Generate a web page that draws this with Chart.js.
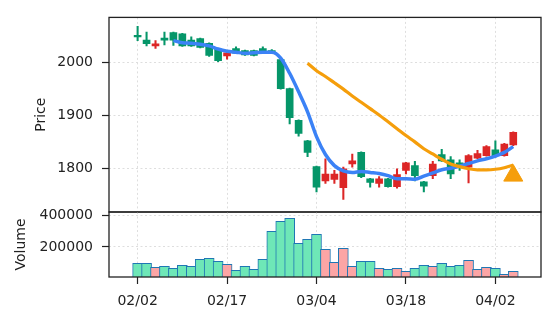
<!DOCTYPE html>
<html>
<head>
<meta charset="utf-8">
<script src="https://cdn.jsdelivr.net/npm/chart.js@4"></script>
<style>
  html, body { margin: 0; padding: 0; background: #fff; }
  #wrap { position: relative; width: 556px; height: 322px; }
  #wrap canvas { position: absolute; left: 0; top: 0; }
</style>
</head>
<body>
<div id="wrap">
  <canvas id="price" width="556" height="322"></canvas>
  <canvas id="volume" width="556" height="322"></canvas>
</div>
<script>
// daily candles (index 0 = 02/02)
const opens  = [2052, 2043, 2032, 2047, 2057, 2055, 2043, 2046, 2037, 2026, 2013, 2027, 2023, 2023, 2027,
                2023, 2006, 1951, 1891, 1852, 1803, 1776, 1779, 1763, 1808, 1830, 1780, 1771, 1780, 1765,
                1796, 1805, 1774, 1786, 1826, 1816, 1810, 1802, 1819, 1824, 1835, 1824, 1844];
const highs  = [2069, 2058, 2042, 2058, 2058, 2056, 2049, 2047, 2038, 2027, 2021, 2030, 2024, 2024, 2030,
                2025, 2008, 1952, 1892, 1853, 1804, 1818, 1796, 1802, 1827, 1831, 1781, 1784, 1781, 1799,
                1811, 1813, 1775, 1813, 1836, 1822, 1816, 1826, 1834, 1843, 1852, 1847, 1869];
const lows   = [2042, 2032, 2027, 2034, 2033, 2031, 2031, 2028, 2012, 2002, 2007, 2017, 2014, 2013, 2017,
                2017, 1950, 1884, 1861, 1822, 1755, 1771, 1771, 1741, 1802, 1782, 1764, 1764, 1764, 1762,
                1789, 1776, 1755, 1780, 1813, 1780, 1796, 1772, 1818, 1823, 1821, 1823, 1843];
const closes = [2049, 2036, 2036, 2043, 2043, 2032, 2032, 2029, 2014, 2004, 2019, 2018, 2015, 2014, 2018,
                2018, 1951, 1896, 1866, 1830, 1764, 1789, 1789, 1799, 1814, 1784, 1773, 1780, 1765, 1788,
                1810, 1786, 1766, 1808, 1814, 1789, 1805, 1824, 1828, 1841, 1824, 1846, 1868];
const volumes = [96000, 96000, 70000, 77000, 64000, 83000, 77000, 121000, 128000, 109000, 89000, 51000, 77000, 57000, 121000,
                 300000, 364000, 383000, 224000, 249000, 281000, 185000, 102000, 192000, 77000, 109000, 109000, 64000, 57000, 64000,
                 45000, 64000, 83000, 77000, 96000, 77000, 83000, 115000, 57000, 70000, 64000, 25000, 45000];

// moving averages as drawn (blue starts at index 4, orange at index 19)
const ma5Start = 4;
const ma5 = [2042, 2038, 2037, 2035, 2032, 2026, 2022, 2020, 2018, 2019, 2020, 2020, 2009, 1980, 1945,
             1907, 1860, 1826, 1805, 1795, 1792, 1794, 1792, 1790, 1786, 1780, 1780, 1779, 1785, 1791,
             1797, 1800, 1804, 1809, 1814, 1818, 1823, 1830, 1841];
const ma20Start = 19;
const ma20 = [1999, 1985, 1974, 1962, 1950, 1937, 1925, 1913, 1901, 1888, 1875, 1862, 1850, 1837, 1827,
              1817, 1808, 1803, 1799, 1797, 1797, 1798, 1801, 1806];

// signal marker
const signalIndex = [42];
const signalPrice = [1786];

const tickIndex  = [0, 10, 20, 30, 40];
const tickLabels = ['02/02', '02/17', '03/04', '03/18', '04/02'];
const priceTicks = [1800, 1900, 2000];
const volumeTicks = [200000, 400000];

const GREEN = '#059669', RED = '#dc2626';
const VOL_GREEN = '#6ee7b7', VOL_RED = '#fca5a5';
const candleColors = opens.map((o, i) => closes[i] < o ? GREEN : RED);
const volColors = opens.map((o, i) => closes[i] < o ? VOL_GREEN : VOL_RED);

const X_MIN = -3.2, X_MAX = 45.1;
const font = { family: 'DejaVu Sans', size: 14 };
const ink = '#222';
const gridColor = '#dedede';
const dots = [2, 2.5];

const frame = {
  id: 'frame',
  afterDatasetsDraw(chart) {
    const { ctx, chartArea: a } = chart;
    ctx.save();
    ctx.strokeStyle = ink;
    ctx.lineWidth = 1.3;
    ctx.strokeRect(a.left, a.top, a.right - a.left, a.bottom - a.top);
    ctx.restore();
  }
};

const pts = (arr, start) => arr.map((v, k) => ({ x: start + k, y: v }));

new Chart(document.getElementById('price'), {
  type: 'bar',
  data: {
    datasets: [
      {
        type: 'line', data: signalIndex.map((x, k) => ({ x: x, y: signalPrice[k] })),
        showLine: false, pointStyle: 'triangle', pointRadius: 11,
        pointBackgroundColor: '#f59e0b', pointBorderColor: '#f59e0b', pointBorderWidth: 1, order: 0
      },
      {
        type: 'line', data: pts(ma20, ma20Start), borderColor: '#f59e0b', borderWidth: 3.2,
        pointRadius: 0, cubicInterpolationMode: 'monotone', order: 1
      },
      {
        type: 'line', data: pts(ma5, ma5Start), borderColor: '#3b82f6', borderWidth: 3.5,
        pointRadius: 0, cubicInterpolationMode: 'monotone', order: 2
      },
      {
        data: opens.map((o, i) => ({ x: i, y: [o, closes[i]] })),
        backgroundColor: candleColors, barThickness: 7, minBarLength: 1.5, grouped: false, order: 3
      },
      {
        data: lows.map((l, i) => ({ x: i, y: [l, highs[i]] })),
        backgroundColor: candleColors, barThickness: 1.4, grouped: false, order: 4
      }
    ]
  },
  options: {
    responsive: false,
    animation: false,
    events: [],
    layout: { padding: { left: 0, top: 15, right: 15, bottom: 0 } },
    plugins: { legend: { display: false }, tooltip: { enabled: false } },
    scales: {
      x: {
        type: 'linear', min: X_MIN, max: X_MAX, offset: false,
        afterBuildTicks: s => { s.ticks = tickIndex.map(v => ({ value: v })); },
        afterFit: s => { s.height = 110; },
        ticks: { display: false },
        grid: { color: gridColor, drawTicks: false, offset: false },
        border: { display: false, dash: dots }
      },
      y: {
        min: 1717, max: 2086,
        afterBuildTicks: s => { s.ticks = priceTicks.map(v => ({ value: v })); },
        afterFit: s => { s.width = 109; },
        ticks: { font: font, color: ink, padding: 9, callback: v => String(v) },
        grid: { color: gridColor, tickLength: 7, tickColor: ink, tickWidth: 1.2, tickBorderDash: [] },
        border: { display: false, dash: dots },
        title: { display: true, text: 'Price', font: font, color: ink, padding: { top: 32.5, bottom: 0 } }
      }
    }
  },
  plugins: [frame]
});

new Chart(document.getElementById('volume'), {
  type: 'bar',
  data: {
    datasets: [{
      data: volumes.map((v, i) => ({ x: i, y: v })),
      backgroundColor: volColors, borderColor: '#1f77b4', borderWidth: 1,
      barThickness: 10, grouped: false
    }]
  },
  options: {
    responsive: false,
    animation: false,
    events: [],
    layout: { padding: { left: 0, top: 212, right: 15, bottom: 0 } },
    plugins: { legend: { display: false }, tooltip: { enabled: false } },
    scales: {
      x: {
        type: 'linear', min: X_MIN, max: X_MAX, offset: false,
        afterBuildTicks: s => { s.ticks = tickIndex.map(v => ({ value: v })); },
        afterFit: s => { s.height = 45; },
        ticks: {
          font: font, color: ink, padding: 9, maxRotation: 0, autoSkip: false,
          callback: v => tickLabels[tickIndex.indexOf(v)]
        },
        grid: { color: gridColor, tickLength: 7, tickColor: ink, tickWidth: 1.2, tickBorderDash: [], offset: false },
        border: { display: false, dash: dots }
      },
      y: {
        min: 8300, max: 423600,
        afterBuildTicks: s => { s.ticks = volumeTicks.map(v => ({ value: v })); },
        afterFit: s => { s.width = 109; },
        ticks: { font: font, color: ink, padding: 9, callback: v => String(v) },
        grid: { color: gridColor, tickLength: 7, tickColor: ink, tickWidth: 1.2, tickBorderDash: [] },
        border: { display: false, dash: dots },
        title: { display: true, text: 'Volume', font: font, color: ink, padding: { top: 12.5, bottom: 0 } }
      }
    }
  },
  plugins: [frame]
});
</script>
</body>
</html>
